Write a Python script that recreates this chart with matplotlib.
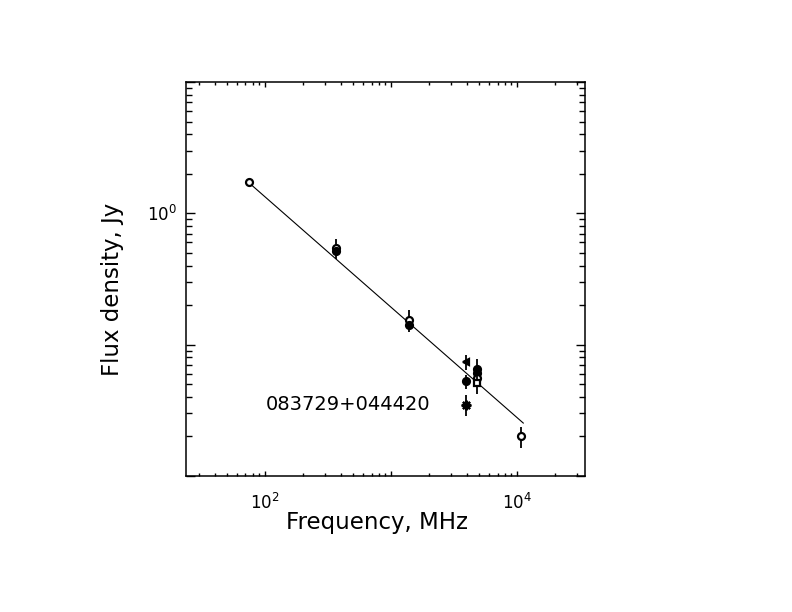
import matplotlib
matplotlib.use('Agg')
import matplotlib.pyplot as plt
import matplotlib.ticker as mticker

############# DATA #############
freq = [74, 365, 365, 1400, 1400, 3950, 3950, 3950, 4850, 4850, 4850, 4850, 10700]  # MHz
flux = [1.73, 0.545, 0.52, 0.154, 0.140, 0.0737, 0.0525, 0.0349, 0.0652, 0.0605, 0.0557, 0.0510, 0.0200]  # Jy
flux_err = [0, 0.095, 0, 0.03, 0, 0.010, 0.0065, 0.0062, 0.012, 0, 0, 0.009, 0.0036]
markers = ['o', 'o', 'o', 'o', 'o', '<', 'o', (8, 2, 0), 'o', 'o', 'o', 's', 'o']
filled = [False, False, True, False, True, True, True, True, True, True, False, False, False]

# fitted power law, drawn between its end points
fit_freq = [74, 11200]
fit_flux = [1.72, 0.0253]

source_name = '083729+044420'
x_ticklabels = {100: r'$10^{2}$', 10000: r'$10^{4}$'}
y_ticklabels = {1: r'$10^{0}$'}

############# PLOT #############
fig = plt.figure(figsize=(7.92, 6.12), dpi=100)
ax = fig.add_axes([186 / 792, 1 - 476 / 612, 398.5 / 792, 394 / 612])

ax.plot(fit_freq, fit_flux, color='black', linewidth=0.8)

for f, s, e, m, fl in zip(freq, flux, flux_err, markers, filled):
    if e > 0:
        ax.errorbar(f, s, yerr=e, fmt='none', ecolor='black', elinewidth=1.3, capsize=0)
    ms = 7 if m == (8, 2, 0) else 5
    ax.plot(f, s, marker=m, linestyle='none', markersize=ms,
            markeredgecolor='black', markeredgewidth=1.6,
            markerfacecolor='black' if fl else 'white')

ax.set_xscale('log')
ax.set_yscale('log')
ax.set_xlim(10 ** 1.373, 10 ** 4.535)
ax.set_ylim(0.01, 10)

ax.xaxis.set_major_locator(mticker.LogLocator(base=10))
ax.yaxis.set_major_locator(mticker.LogLocator(base=10))
ax.xaxis.set_minor_locator(mticker.LogLocator(base=10, subs=range(2, 10)))
ax.yaxis.set_minor_locator(mticker.LogLocator(base=10, subs=range(2, 10)))
ax.xaxis.set_major_formatter(mticker.FuncFormatter(lambda v, p: x_ticklabels.get(int(round(v)), '')))
ax.yaxis.set_major_formatter(mticker.FuncFormatter(lambda v, p: y_ticklabels.get(round(v, 6), '')))
ax.xaxis.set_minor_formatter(mticker.NullFormatter())
ax.yaxis.set_minor_formatter(mticker.NullFormatter())

ax.tick_params(which='both', direction='in', top=True, right=True, width=1.0, labelsize=12)
ax.tick_params(axis='x', which='major', length=3.6, pad=12)
ax.tick_params(axis='x', which='minor', length=2.2)
ax.tick_params(axis='y', which='major', length=6.5, pad=6.5)
ax.tick_params(axis='y', which='minor', length=4.3)
for sp in ax.spines.values():
    sp.set_linewidth(1.1)

ax.text(101, 0.035, source_name, fontsize=14, va='center', ha='left')

fig.text(377 / 792, 1 - 523 / 612, 'Frequency, MHz', fontsize=16.5, ha='center', va='center')
fig.text(112 / 792, 1 - 289 / 612, 'Flux density, Jy', fontsize=16.5, ha='center', va='center',
         rotation=90)

fig.savefig('out.png', dpi=100)
